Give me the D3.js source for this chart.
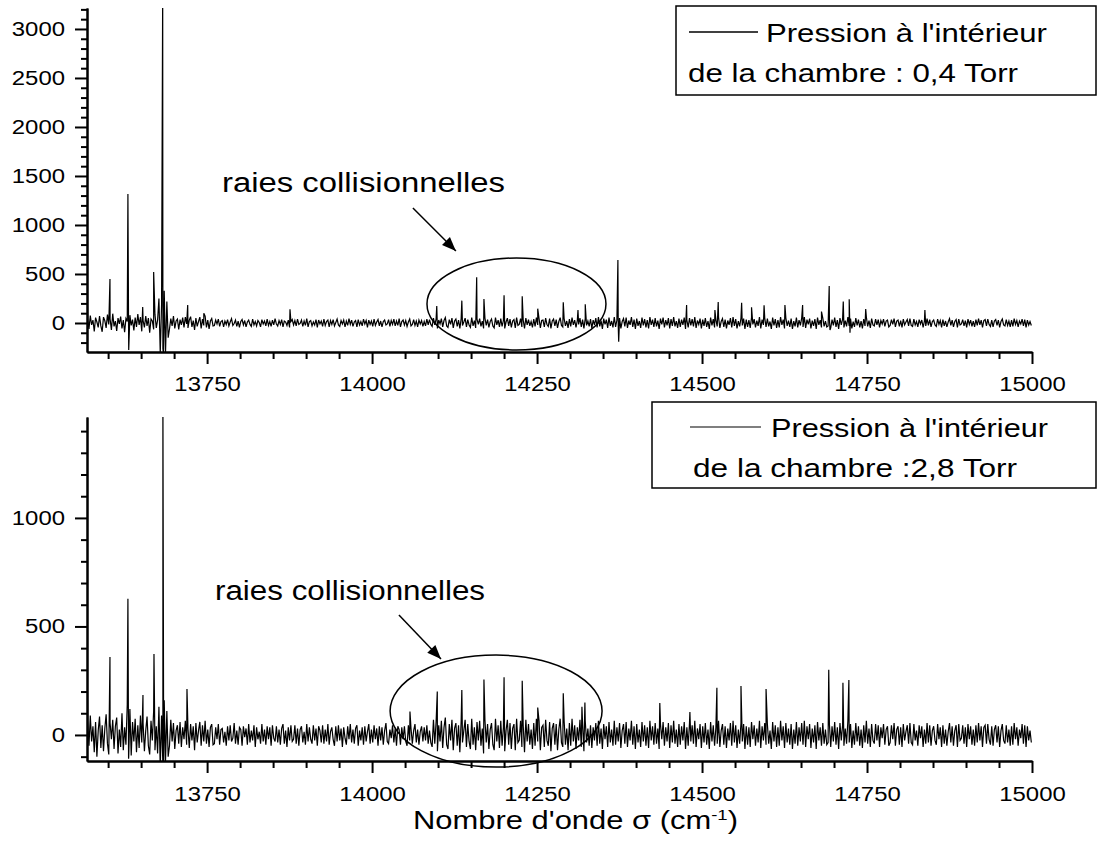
<!DOCTYPE html>
<html><head><meta charset="utf-8">
<script src="https://cdn.jsdelivr.net/npm/d3@7"></script>
<style>
html,body{margin:0;padding:0;background:#fff;}
text{font-family:"Liberation Sans",Arial,sans-serif;fill:#000;}
</style></head>
<body><svg id="chart" width="1100" height="843"></svg>
<script>
// ---------- DATA ----------
const noiseStart = 13569, noiseStep = 2;   // sampling grid of the noise arrays (cm-1)
const xMajorTicks = [13750, 14000, 14250, 14500, 14750, 15000];
const topYTicks = [0, 500, 1000, 1500, 2000, 2500, 3000];
const botYTicks = [0, 500, 1000];

// panel 1 (0,4 Torr) baseline noise
const topNoise = [
 40,-60,75,-20,30,-85,55,10,-45,70,-30,-90,60,25,-50,85,-15,40,-70,95,
 -35,20,-80,50,-10,65,-55,30,-95,45,15,-60,80,-25,35,-75,55,-40,90,-20,
 60,-85,25,-45,70,-30,50,-100,40,20,-65,85,-50,30,
 250,-310,180,-260,330,-300,220,-150,
 -60,45,-30,70,-55,20,40,-65,35,-20,55,-45,60,-10,-50,30,65,-40,25,-70,
 50,-35,15,60,-55,40,-25,70,-45,30,-60,20,45,-30,
 -25,30,-10,40,-35,15,25,-40,20,-15,35,-30,10,45,-25,-5,30,-35,20,-45,
 15,35,-20,25,-40,10,30,-15,-35,40,-20,15,-30,25,5,-40,35,-10,20,-30,
 40,-25,15,-35,30,-20,45,-10,-30,25,-15,35,-40,20,10,-25,30,-45,15,35,
 -20,25,-30,40,-15,-5,30,-35,20,-25,45,-40,15,25,-30,10,-20,35,-45,30,
 -10,20,-35,40,-25,15,30,-40,25,-15,35,-30,5,40,-20,-35,25,-10,30,-40,
 20,-25,45,-15,30,-35,10,25,-40,35,-20,15,-30,40,-10,25,-45,30,-15,20,
 -35,40,-25,10,35,-30,20,-40,15,30,-20,-10,35,-35,25,-15,40,-30,20,-25,
 45,-40,15,30,-20,25,-35,10,40,-30,-15,35,-25,20,-40,30,-10,25,-35,15,
 -30,40,-20,35,-15,
 -35,50,-20,40,-55,30,-10,45,-40,25,55,-30,-45,35,-15,50,-50,20,40,-35,
 30,-55,45,-25,10,50,-40,35,-20,-45,55,-30,25,-50,40,-15,45,-35,20,-55,
 50,-25,35,-45,15,40,-30,-50,55,-20,30,-40,45,-35,25,-55,10,50,-30,40,
 -45,20,35,-50,55,-25,-15,45,-40,30,-55,50,-20,35,-30,15,-45,40,-35,55,
 -20,45,-50,25,30,-40,50,-15,-35,45,-55,20,40,-30,35,-50,15,55,-25,-40,
 45,-30,20,-50,40,-35,55,-20,30,-45,25,-15,50,-40,35,-55,45,-25,20,-35,
 40,-55,30,-20,50,-45,60,-35,25,-60,45,-15,35,-50,55,-30,20,-45,60,-40,
 30,-25,50,-55,15,45,-35,55,-50,25,-20,60,-40,35,-60,45,-30,20,-50,55,
 -25,40,-45,30,-55,60,-20,35,-40,50,-35,25,-60,45,-15,55,-45,30,-25,50,
 -55,40,-30,60,-35,20,-50,45,-40,35,-20,55,-60,30,-45,50,-25,40,-35,60,
 -50,25,-15,45,-55,35,-30,50,-40,20,-60,55,-25,40,-45,30,-35,60,-50,15,
 45,-40,35,-55,25,-20,50,-45,60,-30,40,-55,20,-35,50,-25,45,-60,35,-40,
 30,-50,55,-15,40,-45,25,-30,60,-55,35,-20,50,-40,45,-35,15,-60,55,-25,
 40,-50,30,-45,60,-20,35,-55,50,-30,25,-40,45,-60,20,-35,55,-45,30,-25,
 50,-40,60,-50,35,-15,45,-55,25,-30,40,-60,55,-20,30,-45,50,-35,20,-40,
 -30,45,-50,35,-25,55,-40,30,-60,50,-20,40,-45,25,-35,60,-30,45,-55,15,
 -40,50,-25,35,-45,20,-55,40,-30,60,-35,25,-50,45,-20,
 -30,40,-20,35,-45,25,-10,40,-35,20,30,-40,-25,35,-15,45,-40,20,30,-35,
 25,-45,40,-20,10,35,-30,45,-25,-35,40,-20,15,-40,35,-10,30,-45,20,-30,
 45,-25,35,-40,15,30,-20,-35,40,-15,25,-45,35,-30,20,-40,10,45,-25,30,
 -40,15,35,-45,40,-20,-10,35,-30,25,-45,40,-15,30,-35,20,-40,35,-25,45,
 -20,30,-45,25,35,-30,40,-15,-35,30,-40,20,35,-25,30,-45,15,40,-20,-30,
 35,-25,20,-40,30,-35,45,-15,25,-40,20,-10,40,-30,35,-45,30,-20,15,-25
];
// panel 1 lines (position cm-1, intensity)
const topPeakPos = [13568.3,13602.8,13630,13631.2,13652.4,13669,13682.7,13683.9,13720.6,13745,13875.6,
 14098,14136,14158.5,14169.5,14200,14227.5,14251,14289.7,14312,14323,14372.5,14373.7,
 14476.6,14519.5,14524.5,14560,14575,14594,14625.6,14652.4,14681,14692.7,14693.9,14714,14723,14724.2,14748,14837.7];
const topPeakVal = [285,449,1316,-276,163,520,3400,-320,184,100,140,
 173,228,466,245,282,272,146,211,133,191,643,-190,
 184,133,214,207,160,180,184,184,116,378,-71,218,242,-100,143,133];

// panel 2 (2,8 Torr) baseline noise
const botNoise = [
 70,-50,90,-30,40,-80,60,-100,20,85,-60,45,-75,30,95,-40,-90,55,-20,70,
 -65,40,80,-85,25,-55,100,-70,35,-45,140,-110,120,-95,60,-30,75,-80,45,-60,
 90,-35,55,-75,20,85,-50,-90,65,-25,110,-70,40,-85,
 130,-150,90,-140,160,-120,110,-100,
 -50,70,-30,55,-65,20,45,-40,60,-55,35,-20,65,-45,30,-60,50,-25,40,-70,
 55,-35,20,60,-50,45,-30,65,-40,25,-55,35,50,-45,
 -40,35,-20,50,-45,25,30,-35,15,-50,40,-25,45,-30,-15,55,-40,20,-45,35,
 25,-50,40,-10,30,-45,50,-35,20,-25,45,-55,35,-20,15,-40,50,-30,25,-45,
 40,-20,35,-50,45,-15,-30,40,-35,25,-45,30,50,-40,20,-55,35,-25,45,-30,
 -20,45,-40,30,-50,25,40,-35,15,-45,50,-30,35,-20,-40,45,-25,30,-50,40,
 20,-35,45,-40,25,-30,50,-45,15,35,-20,-50,40,-30,45,-25,30,-55,35,-15,
 -45,40,-20,50,-35,25,-40,30,45,-50,20,-25,35,-45,40,-30,15,50,-40,25,
 -35,45,-20,30,-50,40,-25,35,-45,20,55,-30,-40,25,-15,45,-35,30,-50,40,
 25,-45,35,-20,40,-30,-50,45,-25,30,-40,20,50,-35,25,-45,15,40,-30,35,
 -25,45,-40,20,-35,
 -55,70,-40,60,-75,45,-30,65,-60,35,80,-45,-65,50,-25,70,-70,30,55,-50,
 45,-80,65,-35,20,70,-55,50,-30,-65,75,-45,35,-70,60,-25,65,-50,30,-85,
 70,-35,50,-65,25,55,-45,-70,75,-30,45,-60,65,-50,35,-75,20,70,-45,55,
 -65,30,50,-70,75,-35,-25,65,-55,45,-80,70,-30,50,-45,25,-65,55,-50,75,
 -30,65,-70,35,45,-55,70,-25,-50,60,-75,30,55,-45,50,-70,25,75,-35,-55,
 65,-45,30,-70,55,-50,75,-30,45,-65,35,-25,70,-55,50,-75,65,-35,30,-50,
 45,-60,35,-25,55,-50,65,-40,30,-65,50,-20,40,-55,60,-35,25,-50,65,-45,
 35,-30,55,-60,20,50,-40,60,-55,30,-25,65,-45,40,-65,50,-35,25,-55,60,
 -30,45,-50,35,-60,65,-25,40,-45,55,-40,30,-65,50,-20,60,-50,35,-30,55,
 -60,45,-35,65,-40,25,-55,50,-45,40,-25,60,-65,35,-50,55,-30,45,-40,65,
 -55,30,-20,50,-60,40,-35,55,-45,25,-65,60,-30,45,-50,35,-40,65,-55,20,
 50,-45,40,-60,30,-25,55,-50,65,-35,45,-60,25,-40,55,-30,50,-65,40,-45,
 35,-55,60,-20,45,-50,30,-35,65,-60,40,-25,55,-45,50,-40,20,-65,60,-30,
 45,-55,35,-50,65,-25,40,-60,55,-35,30,-45,50,-65,25,-40,60,-50,35,-30,
 55,-45,65,-55,40,-20,50,-60,30,-35,45,-65,60,-25,35,-50,55,-40,25,-45,
 -35,50,-55,40,-30,60,-45,35,-65,55,-25,45,-50,30,-40,65,-35,50,-60,20,
 -45,55,-30,40,-50,25,-60,45,-35,65,-40,30,-55,50,-25,
 -40,50,-25,45,-55,35,-15,50,-45,25,40,-50,-35,45,-20,55,-50,25,40,-45,
 35,-55,50,-25,15,45,-40,55,-35,-45,50,-25,20,-50,45,-15,40,-55,25,-40,
 55,-35,45,-50,20,40,-25,-45,50,-20,35,-55,45,-40,25,-50,15,55,-35,40,
 -50,20,45,-55,50,-25,-15,45,-40,35,-55,50,-20,40,-45,25,-50,45,-35,55,
 -25,40,-55,35,45,-40,50,-20,-45,40,-50,25,45,-35,40,-55,20,50,-25,-40,
 45,-35,25,-50,40,-45,55,-20,35,-50,25,-15,50,-40,45,-55,40,-25,20,-35
];
const botPeakPos = [13568.5,13602.8,13630,13631.2,13652.8,13669.5,13683,13684.2,13719.5,
 14057.4,14098.8,14136,14169.5,14200,14227.5,14251,14289.7,14318,14322.5,
 14436,14481.6,14522.5,14559,14597,14692,14713.5,14722.5];
const botPeakVal = [258,359,627,-100,184,373,1600,-140,212,
 108,200,207,256,266,250,126,192,130,149,
 147,106,217,226,212,300,240,253];

// ---------- LAYOUT ----------
const svg = d3.select('#chart');
const x = d3.scaleLinear().domain([13568, 15000]).range([87, 1032]);
const panels = [
  {noise: topNoise, pPos: topPeakPos, pVal: topPeakVal, yDom: [-296, 3214], yRange: [352, 8],
   yTicks: topYTicks, minor: d3.range(-200, 3201, 100), labPad: 13,
   legend: {box: [676, 6, 1096, 95], line: [689, 758, 32], stroke: '#000',
            t1: ["Pression à l'intérieur", 766, 42, 281], t2: ["de la chambre : 0,4 Torr", 688, 82, 330]},
   note: {t: [222, 192, 283], ell: [14218.8, 194, 135.6, 469], arrow: [14061.9, 1173, 14127, 735]}},
  {noise: botNoise, pPos: botPeakPos, pVal: botPeakVal, yDom: [-120, 1465], yRange: [761, 417],
   yTicks: botYTicks, minor: d3.range(-100, 1401, 100), labPad: 14,
   legend: {box: [652, 402, 1096, 488], line: [690, 761, 427], stroke: '#555',
            t1: ["Pression à l'intérieur", 771, 437, 277], t2: ["de la chambre :2,8 Torr", 693, 477, 324]},
   note: {t: [215, 600, 270], ell: [14187.9, 110, 160.6, 258], arrow: [14040.7, 553, 14104.4, 350]}}
];

const defs = svg.append('defs');
defs.append('marker').attr('id', 'arrow').attr('viewBox', '0 0 10 10').attr('refX', 10).attr('refY', 5)
  .attr('markerWidth', 16).attr('markerHeight', 14).attr('markerUnits', 'userSpaceOnUse').attr('orient', 'auto')
  .append('path').attr('d', 'M0,1 L10,5 L0,9 Z').attr('fill', '#000');

function txt(g, s, px, py, size, len, anchor) {
  return g.append('text').attr('x', px).attr('y', py).attr('font-size', size)
    .attr('text-anchor', anchor || 'start')
    .attr('textLength', len).attr('lengthAdjust', 'spacingAndGlyphs').text(s);
}

panels.forEach((p, k) => {
  const y = d3.scaleLinear().domain(p.yDom).range(p.yRange);
  const g = svg.append('g');
  const clipId = 'clip' + k;
  defs.append('clipPath').attr('id', clipId).append('rect')
    .attr('x', x.range()[0]).attr('y', p.yRange[1])
    .attr('width', x.range()[1] - x.range()[0] + 1).attr('height', p.yRange[0] - p.yRange[1]);

  // trace: noise grid merged with the line positions
  const pts = p.noise.map((v, i) => ({w: noiseStart + i * noiseStep, v}));
  p.pPos.forEach((w, j) => pts.push({w, v: p.pVal[j]}));
  pts.sort((a, b) => a.w - b.w);
  const line = d3.line().x(d => x(d.w)).y(d => y(d.v));
  g.append('path').datum(pts).attr('clip-path', `url(#${clipId})`)
    .attr('d', line).attr('fill', 'none').attr('stroke', '#000').attr('stroke-width', 1.2)
    .attr('stroke-linejoin', 'miter');

  // axes
  const axStyle = sel => sel.selectAll('path,line').attr('stroke', '#000').attr('stroke-width', 2);
  const yMinorAx = d3.axisLeft(y).tickValues(p.minor.filter(v => v % 500 !== 0)).tickSize(6).tickSizeOuter(0).tickFormat('');
  const yMajorAx = d3.axisLeft(y).tickValues(p.yTicks).tickSize(12).tickSizeOuter(0).tickPadding(10).tickFormat(d3.format('d'));
  const xMinorAx = d3.axisBottom(x).tickValues(d3.range(13600, 15001, 50).filter(v => v % 250 !== 0)).tickSize(7).tickSizeOuter(0).tickFormat('');
  const xMajorAx = d3.axisBottom(x).tickValues(xMajorTicks).tickSize(12).tickSizeOuter(0).tickPadding(p.labPad).tickFormat(d3.format('d'));

  const gy1 = g.append('g').attr('transform', `translate(${x.range()[0]},0)`).call(yMinorAx); axStyle(gy1);
  const gy2 = g.append('g').attr('transform', `translate(${x.range()[0]},0)`).call(yMajorAx); axStyle(gy2);
  const gx1 = g.append('g').attr('transform', `translate(0,${p.yRange[0]})`).call(xMinorAx); axStyle(gx1);
  const gx2 = g.append('g').attr('transform', `translate(0,${p.yRange[0]})`).call(xMajorAx); axStyle(gx2);
  [gy2, gx2].forEach(ax => ax.selectAll('text')
    .attr('font-size', 20).attr('font-family', '"Liberation Sans",Arial,sans-serif').attr('fill', '#000')
    .attr('lengthAdjust', 'spacingAndGlyphs')
    .attr('textLength', d => String(d).length * 13.3));
  gy2.selectAll('text').attr('x', -22);

  // legend
  const L = p.legend;
  g.append('rect').attr('x', L.box[0]).attr('y', L.box[1]).attr('width', L.box[2] - L.box[0]).attr('height', L.box[3] - L.box[1])
    .attr('fill', '#fff').attr('stroke', '#000').attr('stroke-width', 1.5);
  g.append('line').attr('x1', L.line[0]).attr('x2', L.line[1]).attr('y1', L.line[2]).attr('y2', L.line[2])
    .attr('stroke', L.stroke).attr('stroke-width', 1.3);
  txt(g, L.t1[0], L.t1[1], L.t1[2], 26, L.t1[3]);
  txt(g, L.t2[0], L.t2[1], L.t2[2], 26, L.t2[3]);

  // annotation
  const N = p.note;
  txt(g, 'raies collisionnelles', N.t[0], N.t[1], 27, N.t[2]);
  const ex = x(N.ell[0]), ey = y(N.ell[1]);
  g.append('ellipse').attr('cx', ex).attr('cy', ey)
    .attr('rx', x(N.ell[0] + N.ell[2]) - ex).attr('ry', ey - y(N.ell[1] + N.ell[3]))
    .attr('fill', 'none').attr('stroke', '#000').attr('stroke-width', 1.5);
  g.append('line').attr('x1', x(N.arrow[0])).attr('y1', y(N.arrow[1]))
    .attr('x2', x(N.arrow[2])).attr('y2', y(N.arrow[3]))
    .attr('stroke', '#000').attr('stroke-width', 1.5).attr('marker-end', 'url(#arrow)');
});

// x-axis title
const title = svg.append('text').attr('x', 413).attr('y', 829).attr('font-size', 25)
  .attr('textLength', 325).attr('lengthAdjust', 'spacingAndGlyphs');
title.append('tspan').text("Nombre d'onde σ (cm");
title.append('tspan').attr('font-size', 15).attr('dy', -9).text('-1');
title.append('tspan').attr('dy', 9).text(')');
</script></body></html>
